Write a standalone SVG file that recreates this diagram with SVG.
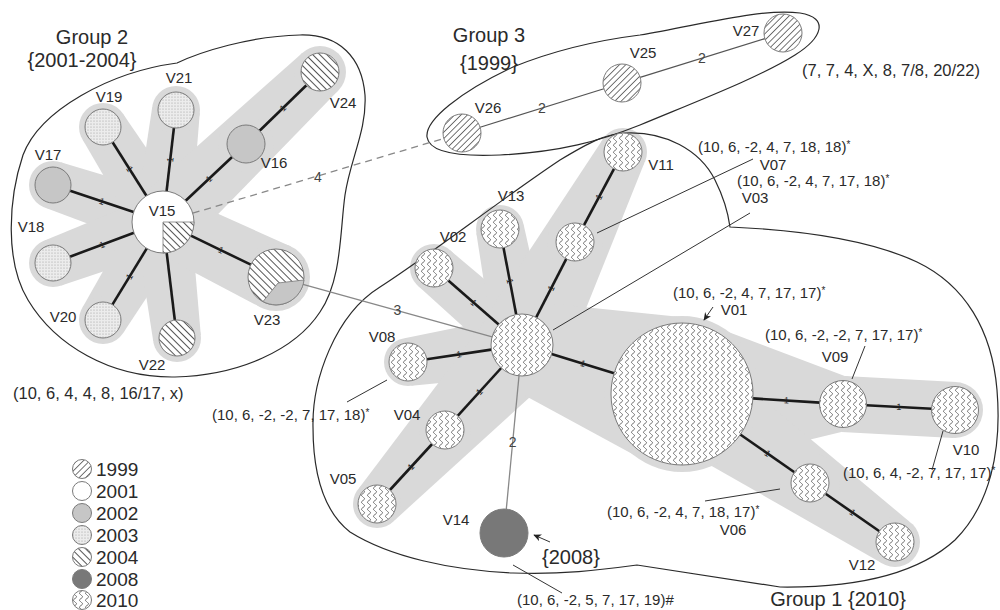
<svg xmlns="http://www.w3.org/2000/svg" width="1000" height="610" viewBox="0 0 1000 610">
<defs>
<style>
text{font-family:"Liberation Sans",Arial,sans-serif;fill:#2a2a2a}
.lbl{font-size:15px;text-anchor:middle}
.ann{font-size:15px}
.big{font-size:16.5px}
.title{font-size:20px;text-anchor:middle}
.tick{font-size:9px;text-anchor:middle;dominant-baseline:central;fill:#222}
.elbl{font-size:14px;text-anchor:middle;dominant-baseline:central;fill:#444}
.leg{font-size:19px}
.node{stroke:#7a7a7a;stroke-width:1}
.halo{fill:#d9d9d9}
.edge{stroke:#1a1a1a;stroke-width:2.6;fill:none}
.thin{stroke:#888;stroke-width:1.3;fill:none}
.g3e{stroke:#555;stroke-width:1.2;fill:none}
.annl{stroke:#333;stroke-width:1;fill:none}
.outline{fill:none;stroke:#2a2a2a;stroke-width:1.2}
</style>
<pattern id="wave" patternUnits="userSpaceOnUse" width="6" height="7"><rect width="6" height="7" fill="#fff"/><path d="M3,0 C5,1.2 5,2.3 3,3.5 C1,4.7 1,5.8 3,7" fill="none" stroke="#444" stroke-width="0.8"/></pattern>
<pattern id="h99" patternUnits="userSpaceOnUse" width="4.5" height="4.5" patternTransform="rotate(45)"><rect width="4.5" height="4.5" fill="#fff"/><line x1="2.25" y1="0" x2="2.25" y2="4.5" stroke="#666" stroke-width="0.9"/></pattern>
<pattern id="h04" patternUnits="userSpaceOnUse" width="5" height="5" patternTransform="rotate(-45)"><rect width="5" height="5" fill="#fff"/><line x1="2.5" y1="0" x2="2.5" y2="5" stroke="#555" stroke-width="1"/></pattern>
<pattern id="dots" patternUnits="userSpaceOnUse" width="3" height="3"><rect width="3" height="3" fill="#ececec"/><circle cx="1" cy="1" r="0.55" fill="#9a9a9a"/></pattern>
<marker id="arr" viewBox="0 0 10 10" refX="9" refY="5" markerWidth="8" markerHeight="8" orient="auto"><path d="M0,0.5 L10,5 L0,9.5 L3,5 Z" fill="#222"/></marker>
</defs>
<rect width="1000" height="610" fill="#fff"/>

<g id="halos">
<g id="halo-group2">
<circle class="halo" cx="163" cy="222" r="40"/>
<polygon class="halo" points="171.9,195.5 60.7,162.2 45.3,207.8 154.1,248.5"/>
<polygon class="halo" points="186.7,207 123.3,114.2 82.7,139.8 139.3,237"/>
<polygon class="halo" points="190.8,225.2 199.8,112.8 152.2,107.2 135.2,218.8"/>
<polygon class="halo" points="186.5,246.6 338,90.8 302,53.2 139.5,197.4"/>
<polygon class="halo" points="153.2,195.8 44.6,240.5 61.4,285.5 172.8,248.2"/>
<polygon class="halo" points="139.1,207.4 82.5,307.5 123.5,332.5 186.9,236.6"/>
<polygon class="halo" points="135.2,225.4 153.2,340.9 200.8,335.1 190.8,218.6"/>
<polygon class="halo" points="149.9,249 261.1,307.6 290.9,246.4 176.1,195"/>
<circle class="halo" cx="53" cy="185" r="24"/>
<circle class="halo" cx="103" cy="127" r="24"/>
<circle class="halo" cx="176" cy="110" r="24"/>
<circle class="halo" cx="246" cy="144" r="28"/>
<circle class="halo" cx="320" cy="72" r="26"/>
<circle class="halo" cx="53" cy="263" r="24"/>
<circle class="halo" cx="103" cy="320" r="24"/>
<circle class="halo" cx="177" cy="338" r="24"/>
<circle class="halo" cx="276" cy="277" r="34"/>
</g>
<g id="halo-group1">
<circle class="halo" cx="522" cy="345" r="44"/>
<polygon class="halo" points="539.1,325.4 449.8,250 418.2,286 504.9,364.6"/>
<polygon class="halo" points="549.5,339.8 523.6,224.5 476.4,233.5 494.5,350.2"/>
<polygon class="halo" points="562.8,366.3 644.3,163.1 601.7,140.9 481.2,323.7"/>
<polygon class="halo" points="517.6,315.3 404.5,338.3 411.5,385.7 526.4,374.7"/>
<polygon class="halo" points="489.5,315.3 359.3,487.8 394.7,520.2 554.5,374.7"/>
<polygon class="halo" points="509.1,387.1 659.1,468.6 704.9,319.4 534.9,302.1"/>
<polygon class="halo" points="677.2,471.8 841.3,431.9 844.7,376.1 686.8,316.2"/>
<polygon class="halo" points="841.5,431.9 953.5,437.9 956.5,382.1 844.5,376.1"/>
<polygon class="halo" points="654.6,433.4 880.7,562.5 909.3,521.5 709.4,354.6"/>
<circle class="halo" cx="434" cy="268" r="24"/>
<circle class="halo" cx="500" cy="229" r="24"/>
<circle class="halo" cx="575" cy="242" r="28"/>
<circle class="halo" cx="623" cy="152" r="24"/>
<circle class="halo" cx="408" cy="362" r="24"/>
<circle class="halo" cx="445" cy="430" r="26"/>
<circle class="halo" cx="377" cy="504" r="24"/>
<circle class="halo" cx="682" cy="394" r="78"/>
<circle class="halo" cx="843" cy="404" r="28"/>
<circle class="halo" cx="955" cy="410" r="28"/>
<circle class="halo" cx="810" cy="483" r="30"/>
<circle class="halo" cx="895" cy="542" r="25"/>
</g>
</g>

<g id="group-outlines">
<path id="outline-group2" class="outline" d="M177,63 C200,52 250,36 300,35 C340,34 362,58 365,95 C367,130 350,160 345,195 C340,230 342,280 320,312 C295,350 240,375 175,377 C110,378 55,345 28,300 C5,262 8,200 23,155 C40,110 110,72 177,63 Z"/>
<path id="outline-group3" class="outline" d="M427,137 C425,120 460,92 513,67 C560,48 600,40 640,35 C700,25 760,8 800,13 C830,18 822,38 795,55 C760,77 700,100 640,125 C600,141 560,152 500,155 C455,157 429,151 427,137 Z"/>
<path id="outline-group1" class="outline" d="M313,427 C312,380 335,315 380,287 C430,255 500,200 560,160 C590,142 605,134 625,133 C665,131 700,150 715,180 C723,196 728,212 730,227 C800,230 870,240 917,262 C965,285 992,330 997,390 C1002,450 990,505 955,540 C920,572 860,588 780,587 L637,565 C600,570 560,575 513,573 C450,570 390,557 350,532 C322,510 313,470 313,427 Z"/>
</g>

<g id="connectors">
<line class="edge" x1="133.6" y1="212.1" x2="70.1" y2="190.7"/>
<line class="edge" x1="146.4" y1="195.8" x2="112.6" y2="142.2"/>
<line class="edge" x1="166.6" y1="191.2" x2="173.9" y2="127.9"/>
<line class="edge" x1="185.6" y1="200.8" x2="232.1" y2="157"/>
<line class="edge" x1="259.6" y1="130.7" x2="306.4" y2="85.3"/>
<line class="edge" x1="134" y1="232.8" x2="69.9" y2="256.7"/>
<line class="edge" x1="146.8" y1="248.4" x2="112.4" y2="304.6"/>
<line class="edge" x1="166.7" y1="252.8" x2="174.8" y2="320.1"/>
<line class="edge" x1="190.9" y1="235.6" x2="250.8" y2="264.7"/>

<line class="edge" x1="498.7" y1="324.6" x2="448.3" y2="280.5"/>
<line class="edge" x1="516.2" y1="314.5" x2="503.5" y2="247.7"/>
<line class="edge" x1="536.2" y1="317.4" x2="566.3" y2="258.9"/>
<line class="edge" x1="584" y1="225.2" x2="614" y2="168.8"/>
<line class="edge" x1="491.3" y1="349.6" x2="426.8" y2="359.2"/>
<line class="edge" x1="501.2" y1="368" x2="457.7" y2="415.9"/>
<line class="edge" x1="432.1" y1="444" x2="389.9" y2="490"/>
<line class="edge" x1="551.6" y1="354.1" x2="614.1" y2="373.2"/>
<line class="edge" x1="752.9" y1="398.4" x2="820" y2="402.6"/>
<line class="edge" x1="866" y1="405.2" x2="932" y2="408.8"/>
<line class="edge" x1="740.3" y1="434.5" x2="794.4" y2="472.2"/>
<line class="edge" x1="825.6" y1="493.8" x2="879.4" y2="531.2"/>

<line class="g3e" x1="480.1" y1="127.3" x2="603.9" y2="88.7"/>
<line class="g3e" x1="640.1" y1="77.4" x2="764.9" y2="38.6"/>

<line class="thin" x1="192.7" y1="213.2" x2="443.8" y2="138.4" stroke-dasharray="7,5"/>
<line class="thin" x1="303" y1="284.4" x2="492.1" y2="336.8"/>
<line class="thin" x1="519" y1="375.9" x2="506.3" y2="509.1"/>

<g id="edge-labels">
<text class="tick" transform="translate(101.9,201.4) rotate(18.6)">1</text>
<text class="tick" transform="translate(129.5,169) rotate(57.8)">1</text>
<text class="tick" transform="translate(170.3,159.6) rotate(-83.4)">1</text>
<text class="tick" transform="translate(208.9,178.9) rotate(-43.3)">1</text>
<text class="tick" transform="translate(283,108) rotate(-44.1)">1</text>
<text class="tick" transform="translate(102,244.8) rotate(-20.4)">1</text>
<text class="tick" transform="translate(129.6,276.5) rotate(-58.5)">1</text>
<text class="tick" transform="translate(220.9,250.2) rotate(25.9)">1</text>
<text class="tick" transform="translate(473.5,302.6) rotate(41.2)">1</text>
<text class="tick" transform="translate(509.9,281.1) rotate(79.2)">1</text>
<text class="tick" transform="translate(551.3,288.2) rotate(-62.8)">1</text>
<text class="tick" transform="translate(599,197) rotate(-62)">1</text>
<text class="tick" transform="translate(459,354.4) rotate(-8.5)">1</text>
<text class="tick" transform="translate(479.5,392) rotate(-47.8)">1</text>
<text class="tick" transform="translate(411,467) rotate(-47.5)">1</text>
<text class="tick" transform="translate(582.9,363.7) rotate(17)">1</text>
<text class="tick" transform="translate(786.5,400.5) rotate(3.6)">1</text>
<text class="tick" transform="translate(899,407) rotate(3.1)">1</text>
<text class="tick" transform="translate(767.4,453.4) rotate(34.9)">1</text>
<text class="tick" transform="translate(852.5,512.5) rotate(34.8)">1</text>
<text class="elbl" x="318" y="177">4</text>
<text class="elbl" x="397.5" y="310">3</text>
<text class="elbl" x="512.7" y="442">2</text>
<text class="elbl" x="542" y="108">2</text>
<text class="elbl" x="702" y="58">2</text>
</g>

<g id="annotation-lines">
<line class="annl" x1="597" y1="233" x2="753" y2="159"/>
<line class="annl" x1="553" y1="330" x2="750" y2="213"/>
<line class="annl" x1="713" y1="307" x2="704" y2="320" marker-end="url(#arr)"/>
<line class="annl" x1="865" y1="346" x2="852" y2="379"/>
<line class="annl" x1="943" y1="431" x2="932" y2="470"/>
<line class="annl" x1="705" y1="501" x2="780" y2="489"/>
<line class="annl" x1="513" y1="565" x2="562" y2="593"/>
<line class="annl" x1="550" y1="542" x2="534" y2="535" marker-end="url(#arr)"/>
<line class="annl" x1="347" y1="402" x2="387" y2="380"/>
</g>
</g>

<g id="nodes">
<g id="V15"><circle class="node" cx="163" cy="222" r="31" fill="#fff"/><path d="M163,222 L194,222 A31,31 0 0 1 163,253 Z" fill="url(#h04)" stroke="#7a7a7a" stroke-width="0.8"/><text class="lbl" x="162" y="216">V15</text></g>
<g id="V17"><circle class="node" cx="53" cy="185" r="18" fill="#c6c6c6"/><text class="lbl" x="48" y="160">V17</text></g>
<g id="V19"><circle class="node" cx="103" cy="127" r="18" fill="url(#dots)"/><text class="lbl" x="109" y="102">V19</text></g>
<g id="V21"><circle class="node" cx="176" cy="110" r="18" fill="url(#dots)"/><text class="lbl" x="179" y="83">V21</text></g>
<g id="V16"><circle class="node" cx="246" cy="144" r="19" fill="#c6c6c6"/><text class="lbl" x="274" y="168">V16</text></g>
<g id="V24"><circle class="node" cx="320" cy="72" r="19" fill="url(#h04)"/><text class="lbl" x="343" y="108">V24</text></g>
<g id="V18"><circle class="node" cx="53" cy="263" r="18" fill="url(#dots)"/><text class="lbl" x="31" y="232">V18</text></g>
<g id="V20"><circle class="node" cx="103" cy="320" r="18" fill="url(#dots)"/><text class="lbl" x="63" y="322">V20</text></g>
<g id="V22"><circle class="node" cx="177" cy="338" r="18" fill="url(#h04)"/><text class="lbl" x="152" y="370">V22</text></g>
<g id="V23"><circle class="node" cx="276" cy="277" r="28" fill="url(#h04)"/><path d="M278,283 L304,280 A28,28 0 0 1 263,301.5 Z" fill="#c6c6c6" stroke="#7a7a7a" stroke-width="0.8"/><text class="lbl" x="267" y="325">V23</text></g>

<g id="V26"><circle class="node" cx="462" cy="133" r="19" fill="url(#h99)"/><text class="lbl" x="488" y="113">V26</text></g>
<g id="V25"><circle class="node" cx="622" cy="83" r="19" fill="url(#h99)"/><text class="lbl" x="643" y="58">V25</text></g>
<g id="V27"><circle class="node" cx="783" cy="33" r="19" fill="url(#h99)"/><text class="lbl" x="746" y="36">V27</text></g>

<g id="V03"><circle class="node" cx="522" cy="345" r="31" fill="url(#wave)"/></g>
<g id="V02"><circle class="node" cx="434" cy="268" r="19" fill="url(#wave)"/><text class="lbl" x="453" y="242">V02</text></g>
<g id="V13"><circle class="node" cx="500" cy="229" r="19" fill="url(#wave)"/><text class="lbl" x="511" y="201">V13</text></g>
<g id="V07"><circle class="node" cx="575" cy="242" r="19" fill="url(#wave)"/></g>
<g id="V11"><circle class="node" cx="623" cy="152" r="19" fill="url(#wave)"/><text class="lbl" x="661" y="170">V11</text></g>
<g id="V08"><circle class="node" cx="408" cy="362" r="19" fill="url(#wave)"/><text class="lbl" x="382" y="342">V08</text></g>
<g id="V04"><circle class="node" cx="445" cy="430" r="19" fill="url(#wave)"/><text class="lbl" x="407" y="420">V04</text></g>
<g id="V05"><circle class="node" cx="377" cy="504" r="19" fill="url(#wave)"/><text class="lbl" x="343" y="484">V05</text></g>
<g id="V01"><circle class="node" cx="682" cy="394" r="71" fill="url(#wave)"/></g>
<g id="V09"><circle class="node" cx="843" cy="404" r="23.5" fill="url(#wave)"/></g>
<g id="V10"><circle class="node" cx="955" cy="410" r="23.5" fill="url(#wave)"/></g>
<g id="V06"><circle class="node" cx="810" cy="483" r="19" fill="url(#wave)"/></g>
<g id="V12"><circle class="node" cx="895" cy="542" r="19" fill="url(#wave)"/><text class="lbl" x="862" y="570">V12</text></g>
<g id="V14"><circle class="node" cx="504" cy="533" r="24" fill="#787878" stroke="#666"/><text class="lbl" x="456" y="525">V14</text></g>
</g>

<g id="annotations">
<text class="title" x="92" y="44">Group 2</text>
<text class="title" x="82" y="67">{2001-2004}</text>
<text class="title" x="489" y="42">Group 3</text>
<text class="title" x="489" y="70">{1999}</text>
<text class="title" x="838" y="606">Group 1 {2010}</text>
<text class="title" x="571" y="564">{2008}</text>
<text class="big" x="13" y="399">(10, 6, 4, 4, 8, 16/17, x)</text>
<text class="big" x="802" y="76">(7, 7, 4, X, 8, 7/8, 20/22)</text>
<text class="ann" x="698" y="152">(10, 6, -2, 4, 7, 18, 18)<tspan font-size="10" dy="-4">*</tspan></text>
<text class="lbl" x="773" y="170">V07</text>
<text class="ann" x="737" y="186">(10, 6, -2, 4, 7, 17, 18)<tspan font-size="10" dy="-4">*</tspan></text>
<text class="lbl" x="755" y="203">V03</text>
<text class="ann" x="673" y="298">(10, 6, -2, 4, 7, 17, 17)<tspan font-size="10" dy="-4">*</tspan></text>
<text class="lbl" x="734" y="315">V01</text>
<text class="ann" x="765" y="340">(10, 6, -2, -2, 7, 17, 17)<tspan font-size="10" dy="-4">*</tspan></text>
<text class="lbl" x="835" y="362">V09</text>
<text class="lbl" x="966" y="455">V10</text>
<text class="ann" x="843" y="478">(10, 6, 4, -2, 7, 17, 17)<tspan font-size="10" dy="-4">*</tspan></text>
<text class="ann" x="607" y="517">(10, 6, -2, 4, 7, 18, 17)<tspan font-size="10" dy="-4">*</tspan></text>
<text class="lbl" x="733" y="535">V06</text>
<text class="ann" x="517" y="605">(10, 6, -2, 5, 7, 17, 19)#</text>
<text class="ann" x="212" y="420">(10, 6, -2, -2, 7, 17, 18)<tspan font-size="10" dy="-4">*</tspan></text>
</g>

<g id="legend">
<circle class="node" cx="82" cy="469" r="9.5" fill="url(#h99)"/><text class="leg" x="96" y="476">1999</text>
<circle class="node" cx="82" cy="491" r="9.5" fill="#fff"/><text class="leg" x="96" y="498">2001</text>
<circle class="node" cx="82" cy="513" r="9.5" fill="#c6c6c6"/><text class="leg" x="96" y="520">2002</text>
<circle class="node" cx="82" cy="535" r="9.5" fill="url(#dots)"/><text class="leg" x="96" y="542">2003</text>
<circle class="node" cx="82" cy="557" r="9.5" fill="url(#h04)"/><text class="leg" x="96" y="564">2004</text>
<circle class="node" cx="82" cy="579" r="9.5" fill="#787878"/><text class="leg" x="96" y="586">2008</text>
<circle class="node" cx="82" cy="600" r="9.5" fill="url(#wave)"/><text class="leg" x="96" y="607">2010</text>
</g>
</svg>
